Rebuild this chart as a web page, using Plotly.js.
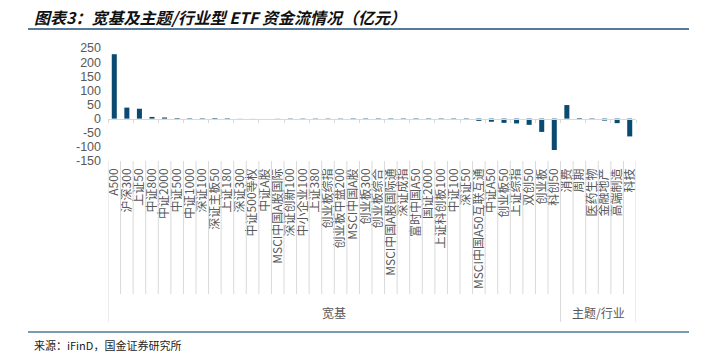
<!DOCTYPE html>
<html>
<head>
<meta charset="utf-8">
<script src="https://cdn.plot.ly/plotly-3.0.1.min.js"></script>
<style>
html,body{margin:0;padding:0;background:#fff;}
#chart{width:706px;height:362px;}
</style>
</head>
<body>
<div id="chart"></div>
<script>
// ---- data ----
const categories = [
  "A500","沪深300","上证50","中证800","中证2000","中证500","中证1000","深证100","深证主板50","上证180",
  "深证300","中证500等权","中证A股","MSCI中国A股国际","深证创新100","中小企业100","上证380","创业板综指","创业板中盘200","MSCI中国A股",
  "创业板300","创业板综合","MSCI中国A股国际通","深证成指","富时中国A50","国证2000","上证科创板100","中证100","深证50","MSCI中国A50互联互通",
  "中证A50","创业板50","上证综指","双创50","创业板","科创50",
  "消费","周期","医药生物","金融地产","高端制造","科技"
];
const groups = [
  "宽基","宽基","宽基","宽基","宽基","宽基","宽基","宽基","宽基","宽基",
  "宽基","宽基","宽基","宽基","宽基","宽基","宽基","宽基","宽基","宽基",
  "宽基","宽基","宽基","宽基","宽基","宽基","宽基","宽基","宽基","宽基",
  "宽基","宽基","宽基","宽基","宽基","宽基",
  "主题/行业","主题/行业","主题/行业","主题/行业","主题/行业","主题/行业"
];
const flows = [
  228,39,35,6,4,2,1.5,1.5,2,1.5,
  0.3,0.2,0.1,-0.5,-1,-1,-1,-1,-1,-1.5,
  -1.5,-1.5,-1.5,-1.5,-2,-2,-2,-2.5,-3,-8,
  -11,-15,-17,-22,-47,-111,
  48,2,-2,-7,-16,-63
];
const yTicks = [250,200,150,100,50,0,-50,-100,-150];
const titleText = "图表3：宽基及主题/行业型 ETF 资金流情况（亿元）";
const sourceText = "来源：iFinD，国金证券研究所";

// ---- layout geometry ----
const W = 706, H = 362;
const M = {l:108, r:70, t:48, b:201};
const plotH = H - M.t - M.b, plotW = W - M.l - M.r;
const py = px => (H - M.b - px) / plotH;   // pixel y -> paper y
const pxX = px => (px - M.l) / plotW;      // pixel x -> paper x

const barColor = "#0b4a70";
const gridC = "#d9d9d9";

// separators
const shapes = [];
const n = categories.length;
const groupBounds = [-0.5];
for (let i = 1; i < n; i++) if (groups[i] !== groups[i-1]) groupBounds.push(i - 0.5);
groupBounds.push(n - 0.5);
for (let i = 0; i <= n; i++) {
  const xb = i - 0.5;
  const isGroup = groupBounds.includes(xb);
  shapes.push({type:"line", xref:"x", yref:"paper", x0:xb, x1:xb,
    y0:0, y1: isGroup ? py(322) : py(294), line:{color:gridC, width:1}});
}
// title underline and footer line
shapes.push({type:"line", xref:"paper", yref:"paper", x0:pxX(28), x1:pxX(689), y0:py(29), y1:py(29),
  line:{color:"#1f4e79", width:1.6}});
shapes.push({type:"line", xref:"paper", yref:"paper", x0:pxX(28), x1:pxX(689), y0:py(332), y1:py(332),
  line:{color:"#4a7a96", width:1.6}});

// group labels
const annotations = [];
for (let g = 0; g < groupBounds.length - 1; g++) {
  const a = groupBounds[g], b = groupBounds[g+1];
  annotations.push({xref:"x", yref:"paper", x:(a+b)/2, y:py(312), text: groups[Math.round(a+0.5)],
    showarrow:false, font:{family:"Noto Sans CJK SC", size:12, color:"#595959"}, xanchor:"center", yanchor:"middle"});
}
annotations.push({xref:"paper", yref:"paper", x:pxX(32), y:py(345), text:sourceText, showarrow:false,
  xanchor:"left", yanchor:"middle", font:{family:"Noto Sans CJK SC", size:11, color:"#222"}});
annotations.push({xref:"paper", yref:"paper", x:pxX(32), y:py(17), text:"<b><i>"+titleText+"</i></b>", showarrow:false,
  xanchor:"left", yanchor:"middle", font:{family:"Noto Sans CJK SC", size:16, color:"#111"}});

const traces = [
  {type:"bar", x:categories, y:flows, marker:{color:barColor}, hoverinfo:"x+y", xaxis:"x", yaxis:"y"},
  {type:"bar", x:categories, y:flows, marker:{color:"rgba(0,0,0,0)"}, hoverinfo:"skip", xaxis:"x2", yaxis:"y", showlegend:false}
];

const layout = {
  width:W, height:H,
  margin:M,
  paper_bgcolor:"#fff", plot_bgcolor:"#fff",
  showlegend:false,
  bargap:0.6,
  font:{family:"Noto Sans CJK SC, Liberation Sans", color:"#595959"},
  xaxis:{type:"category", categoryorder:"array", categoryarray:categories, range:[-0.5, n-0.5],
    tickmode:"array", tickvals:categories, ticktext:categories,
    tickangle:-90, tickfont:{family:"Noto Sans CJK SC", size:12, color:"#595959"},
    showgrid:false, zeroline:false, showline:false, ticks:"", ticklabelstandoff:4, automargin:false},
  xaxis2:{type:"category", categoryorder:"array", categoryarray:categories, range:[-0.5, n-0.5],
    overlaying:"x", anchor:"free", position:(0-yTicks[yTicks.length-1])/(yTicks[0]-yTicks[yTicks.length-1]),
    showticklabels:false, showgrid:false, zeroline:false, showline:true, linecolor:gridC, linewidth:1,
    ticks:"outside", tickson:"boundaries", ticklen:3, tickcolor:gridC},
  yaxis:{range:[yTicks[yTicks.length-1], yTicks[0]], tickvals:yTicks, ticktext:yTicks.map(String),
    showgrid:false, zeroline:false, showline:false, ticks:"",
    tickfont:{family:"Liberation Sans", size:12.5, color:"#595959"}, ticklabelstandoff:6, automargin:false},
  shapes:shapes,
  annotations:annotations
};

Plotly.newPlot("chart", traces, layout, {displayModeBar:false, staticPlot:true});
</script>
</body>
</html>
